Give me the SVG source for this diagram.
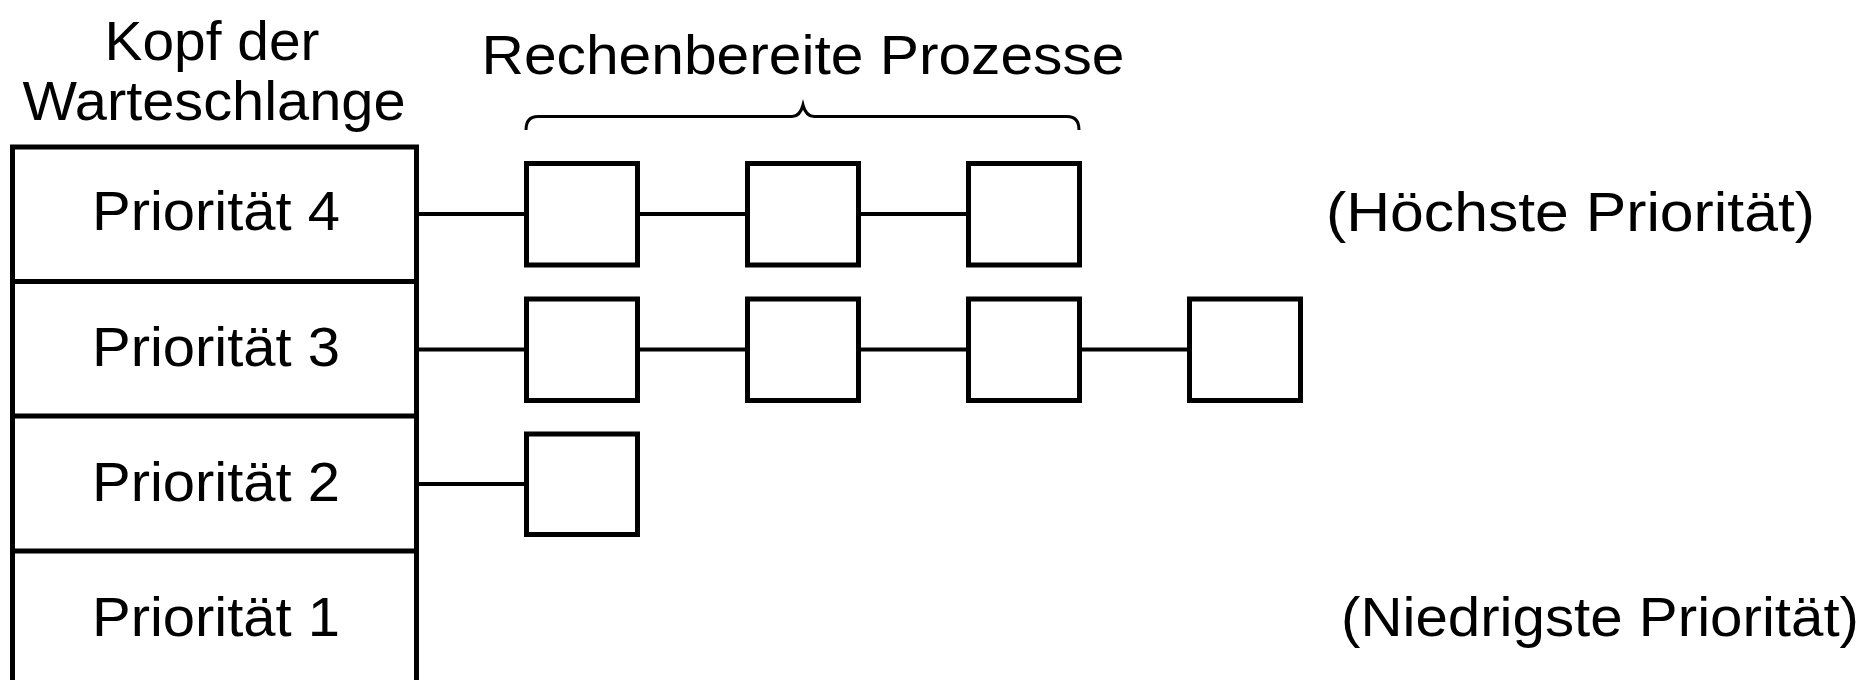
<svg xmlns="http://www.w3.org/2000/svg" width="1867" height="680" viewBox="0 0 1867 680">
<style>
text{font-family:"Liberation Sans",Arial,sans-serif;font-size:56px;fill:#000}
.c{text-anchor:middle}
.b{fill:#fff;stroke:#000;stroke-width:5}
.l{stroke:#000;stroke-width:4;fill:none}
.br{stroke:#000;stroke-width:3;fill:none}
</style>
<rect width="1867" height="680" fill="#fff"/>
<g id="header">
<text class="c" x="212" y="60" textLength="215" lengthAdjust="spacingAndGlyphs">Kopf der</text>
<text class="c" x="214" y="120" textLength="383" lengthAdjust="spacingAndGlyphs">Warteschlange</text>
</g>
<g id="label-ready">
<text class="c" x="803" y="74" textLength="643" lengthAdjust="spacingAndGlyphs">Rechenbereite Prozesse</text>
<path class="br" d="M526,130 Q526,116.5 538,116.5 L792,116.5 Q800,116.5 803,105 Q806,116.5 814,116.5 L1067,116.5 Q1079,116.5 1079,130"/>
</g>
<g id="connectors">
<line class="l" x1="416.5" y1="214" x2="526.5" y2="214"/>
<line class="l" x1="637.5" y1="214" x2="747.5" y2="214"/>
<line class="l" x1="858.5" y1="214" x2="968.5" y2="214"/>
<line class="l" x1="416.5" y1="349.5" x2="526.5" y2="349.5"/>
<line class="l" x1="637.5" y1="349.5" x2="747.5" y2="349.5"/>
<line class="l" x1="858.5" y1="349.5" x2="968.5" y2="349.5"/>
<line class="l" x1="1079.5" y1="349.5" x2="1189.5" y2="349.5"/>
<line class="l" x1="416.5" y1="484" x2="526.5" y2="484"/>
</g>
<g id="queue-head">
<path fill="none" stroke="#000" stroke-width="5" d="M12.5,685 L12.5,147 L416.5,147 L416.5,685 M12.5,281.5 L416.5,281.5 M12.5,416 L416.5,416 M12.5,551 L416.5,551"/>
</g>
<g id="prio4"><text class="c" x="216" y="230" textLength="248" lengthAdjust="spacingAndGlyphs">Priorität 4</text></g>
<g id="prio3"><text class="c" x="216" y="366" textLength="248" lengthAdjust="spacingAndGlyphs">Priorität 3</text></g>
<g id="prio2"><text class="c" x="216" y="501" textLength="248" lengthAdjust="spacingAndGlyphs">Priorität 2</text></g>
<g id="prio1"><text class="c" x="216" y="636" textLength="248" lengthAdjust="spacingAndGlyphs">Priorität 1</text></g>
<g id="p4-1"><rect class="b" x="526.5" y="163.5" width="111" height="101.5"/></g>
<g id="p4-2"><rect class="b" x="747.5" y="163.5" width="111" height="101.5"/></g>
<g id="p4-3"><rect class="b" x="968.5" y="163.5" width="111" height="101.5"/></g>
<g id="p3-1"><rect class="b" x="526.5" y="299" width="111" height="101.5"/></g>
<g id="p3-2"><rect class="b" x="747.5" y="299" width="111" height="101.5"/></g>
<g id="p3-3"><rect class="b" x="968.5" y="299" width="111" height="101.5"/></g>
<g id="p3-4"><rect class="b" x="1189.5" y="299" width="111" height="101.5"/></g>
<g id="p2-1"><rect class="b" x="526.5" y="434" width="111" height="100.5"/></g>
<g id="label-high"><text x="1326" y="231" textLength="489" lengthAdjust="spacingAndGlyphs">(Höchste Priorität)</text></g>
<g id="label-low"><text x="1341" y="636" textLength="518" lengthAdjust="spacingAndGlyphs">(Niedrigste Priorität)</text></g>
</svg>
